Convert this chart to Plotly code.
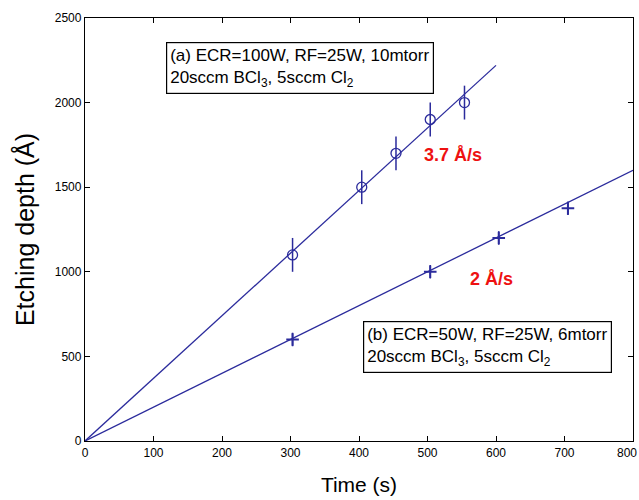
import plotly.graph_objects as go

# Etch depth versus time for two plasma conditions
time_a = [303, 404, 454, 504, 554]
depth_a = [1100, 1500, 1700, 1900, 2000]
err_a = [100, 100, 100, 100, 100]

time_b = [303, 504, 604, 705]
depth_b = [600, 1000, 1200, 1375]
err_b = [40, 40, 40, 40]

rate_a = 3.7   # Å/s
rate_b = 2     # Å/s
fit_end_a = 600
fit_end_b = 800

x_ticks = [0, 100, 200, 300, 400, 500, 600, 700, 800]
y_ticks = [0, 500, 1000, 1500, 2000, 2500]

navy = "#2b2b9c"
font_main = "Liberation Sans, Arial, sans-serif"
tick_family = "Liberation Sans Narrow, Liberation Sans, Arial"

fig = go.Figure()

# linear fits through the origin
fig.add_trace(go.Scatter(x=[0, fit_end_a], y=[0, rate_a * fit_end_a], mode="lines",
                         line=dict(color=navy, width=1.3), showlegend=False))
fig.add_trace(go.Scatter(x=[0, fit_end_b], y=[0, rate_b * fit_end_b], mode="lines",
                         line=dict(color=navy, width=1.3), showlegend=False))

# measured points with error bars
fig.add_trace(go.Scatter(x=time_a, y=depth_a, mode="markers",
                         marker=dict(symbol="circle-open", size=10, color=navy,
                                     line=dict(width=1.3, color=navy)),
                         error_y=dict(type="data", array=err_a, color=navy,
                                      thickness=1.5, width=0),
                         showlegend=False))
fig.add_trace(go.Scatter(x=time_b, y=depth_b, mode="markers",
                         marker=dict(symbol="cross-thin-open", size=9, color=navy,
                                     line=dict(width=2, color=navy)),
                         error_y=dict(type="data", array=err_b, color=navy,
                                      thickness=1.5, width=0),
                         showlegend=False))

box_font = dict(family=font_main, size=17, color="black")
fig.add_annotation(x=118, y=2358, xref="x", yref="y", xanchor="left", yanchor="top",
                   text="(a) ECR=100W, RF=25W, 10mtorr<br>20sccm BCl<sub>3</sub>, 5sccm Cl<sub>2</sub>",
                   showarrow=False, align="left", font=box_font,
                   bordercolor="black", borderwidth=1.2, borderpad=3,
                   bgcolor="white")
fig.add_annotation(x=406, y=709, xref="x", yref="y", xanchor="left", yanchor="top",
                   text="(b) ECR=50W, RF=25W, 6mtorr<br>20sccm BCl<sub>3</sub>, 5sccm Cl<sub>2</sub>",
                   showarrow=False, align="left", font=box_font,
                   bordercolor="black", borderwidth=1.2, borderpad=3,
                   bgcolor="white")

rate_font = dict(family=font_main, size=18, color="#ee1111")
fig.add_annotation(x=537, y=1690, xref="x", yref="y", text=f"<b>{rate_a:g} Å/s</b>",
                   showarrow=False, font=rate_font)
fig.add_annotation(x=594, y=957, xref="x", yref="y", text=f"<b>{rate_b:g} Å/s</b>",
                   showarrow=False, font=rate_font)

# last x tick label sits at the page edge, so it is placed by hand
fig.add_annotation(x=x_ticks[-1], y=0, xref="x", yref="paper", yanchor="top",
                   xanchor="right", xshift=6, yshift=-3, text=str(x_ticks[-1]),
                   showarrow=False,
                   font=dict(family=tick_family, size=12, color="black"))

axis_common = dict(showgrid=False, zeroline=False, showline=True, linecolor="black",
                   linewidth=1.3, mirror="ticks", ticks="inside", ticklen=5,
                   tickcolor="black", tickwidth=1.2,
                   tickfont=dict(family=tick_family, size=12, color="black"))

fig.update_xaxes(range=[0, 800], tickvals=x_ticks, ticktext=[str(v) for v in x_ticks],
                 title=dict(text="Time (s)", font=dict(family=font_main, size=21, color="black"),
                            standoff=18),
                 **axis_common)
fig.update_yaxes(range=[0, 2500], tickvals=y_ticks, ticktext=[str(v) for v in y_ticks],
                 title=dict(text="Etching depth (Å)", font=dict(family=font_main, size=25, color="black"),
                            standoff=12),
                 **axis_common)

fig.update_layout(width=639, height=500, margin=dict(l=85, r=6, t=18, b=59),
                  plot_bgcolor="white", paper_bgcolor="white")

fig.write_html("out.html")
